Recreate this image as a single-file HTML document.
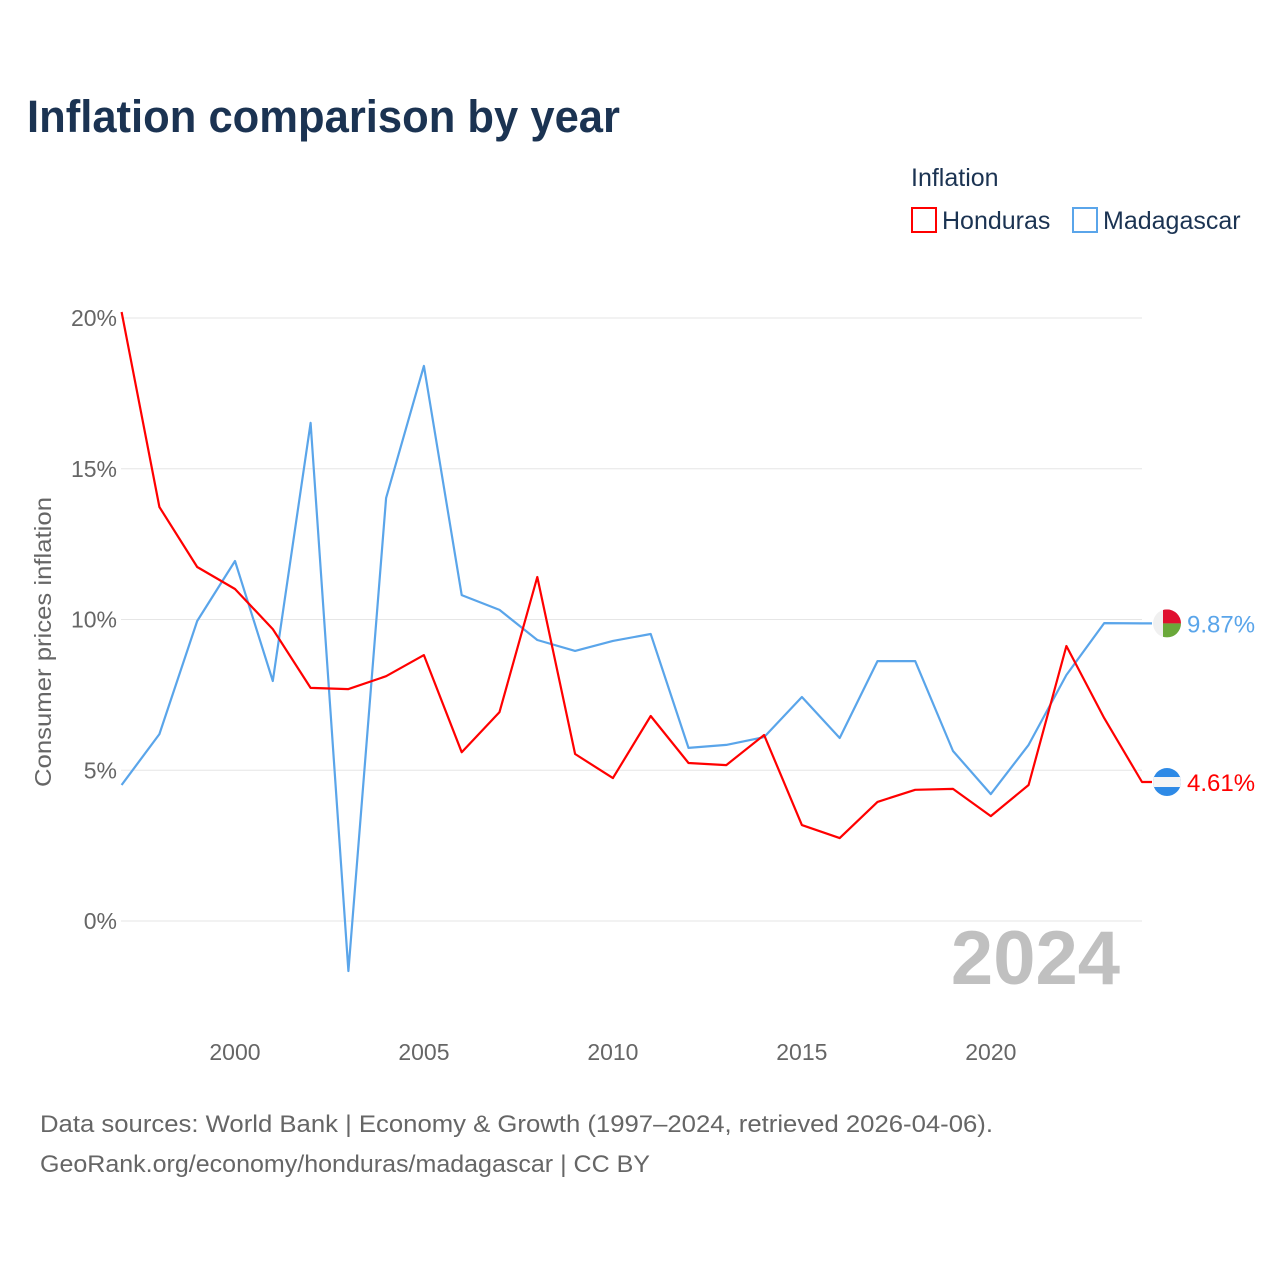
<!DOCTYPE html>
<html><head><meta charset="utf-8"><style>
body{margin:0;background:#fff;}
svg text{font-family:"Liberation Sans",sans-serif;}
</style></head><body>
<svg id="chart" width="1280" height="1280" viewBox="0 0 1280 1280" xmlns="http://www.w3.org/2000/svg">
<text x="27" y="132" font-size="45" font-weight="bold" fill="#1b3352" textLength="593" lengthAdjust="spacingAndGlyphs">Inflation comparison by year</text>
<text x="911" y="186" font-size="25" fill="#1b3352">Inflation</text>
<g>
<rect x="912" y="208" width="24" height="24" fill="none" stroke="#ff0000" stroke-width="2"/>
<text x="942" y="229" font-size="25" fill="#1b3352">Honduras</text></g>
<g>
<rect x="1073" y="208" width="24" height="24" fill="none" stroke="#5aa5ea" stroke-width="2"/>
<text x="1103" y="229" font-size="25" fill="#1b3352">Madagascar</text></g>
<text transform="translate(51,642) rotate(-90)" text-anchor="middle" font-size="23" fill="#666" textLength="290" lengthAdjust="spacingAndGlyphs">Consumer prices inflation</text>
<g id="grid"></g><g id="xt"></g><g id="series"></g>
<text x="1120" y="984" text-anchor="end" font-size="76" font-weight="bold" fill="#c0c0c0">2024</text>
<text x="40" y="1132" font-size="24" fill="#666" textLength="953" lengthAdjust="spacingAndGlyphs">Data sources: World Bank | Economy &amp; Growth (1997–2024, retrieved 2026-04-06).</text>
<text x="40" y="1172" font-size="24" fill="#666" textLength="610" lengthAdjust="spacingAndGlyphs">GeoRank.org/economy/honduras/madagascar | CC BY</text>
</svg>
<script>
const years=[1997,1998,1999,2000,2001,2002,2003,2004,2005,2006,2007,2008,2009,2010,2011,2012,2013,2014,2015,2016,2017,2018,2019,2020,2021,2022,2023,2024];
const honduras=[20.2,13.73,11.74,11.01,9.68,7.73,7.69,8.12,8.82,5.6,6.93,11.41,5.54,4.74,6.8,5.24,5.17,6.17,3.18,2.75,3.95,4.35,4.38,3.48,4.51,9.12,6.73,4.61];
const madagascar=[4.51,6.2,9.95,11.94,7.96,16.52,-1.66,14.03,18.41,10.81,10.32,9.32,8.96,9.29,9.52,5.74,5.84,6.1,7.43,6.07,8.62,8.62,5.64,4.21,5.84,8.16,9.88,9.87];
const yTicks=[0,5,10,15,20];
const xTicks=[2000,2005,2010,2015,2020];
const NS="http://www.w3.org/2000/svg";
const X=y=>121.6+(y-1997)*(1142-121.6)/27;
const Y=v=>921-v*30.15;
function mk(t,a,p){const e=document.createElementNS(NS,t);for(const k in a)e.setAttribute(k,a[k]);p.appendChild(e);return e;}
const grid=document.getElementById('grid');
yTicks.forEach(v=>{
 const l=mk('line',{x1:121,x2:1142,y1:Y(v),y2:Y(v),stroke:'#e6e6e6','stroke-width':1},grid);
 
 
 const t=mk('text',{x:117,y:Y(v)+8,'text-anchor':'end','font-size':23,fill:'#666'},grid);
 t.textContent=v+'%';
 
 
});
const xt=document.getElementById('xt');
xTicks.forEach(y=>{
 const t=mk('text',{x:X(y),y:1060,'text-anchor':'middle','font-size':23,fill:'#666'},xt);
 t.textContent=y;
 
 
});
const S=document.getElementById('series');
function draw(vals,color,name){
 const pts=vals.map((v,i)=>X(years[i]).toFixed(1)+','+Y(v).toFixed(1));
 const last=vals[vals.length-1];
 pts.push('1152,'+Y(last).toFixed(1));
 const p=mk('polyline',{points:pts.join(' '),fill:'none',stroke:color,'stroke-width':2.2,'stroke-linejoin':'round'},S);
 
 
 const t=mk('text',{x:1187,y:Y(last)+9,'font-size':24,fill:color},S);
 t.textContent=last.toFixed(2)+'%';
 
 
 return Y(last);
}
const ym=draw(madagascar,'#5aa5ea','madagascar');
const yh=draw(honduras,'#ff0000','honduras');
const cx=1167,r=14;
const fm=mk('g',{},S);


mk('clipPath',{id:'cm'},fm);
mk('circle',{cx:cx,cy:ym,r:r},document.getElementById('cm'));
const gm=mk('g',{'clip-path':'url(#cm)'},fm);
mk('rect',{x:cx-r,y:ym-r,width:2*r,height:2*r,fill:'#f0f0f0'},gm);
mk('rect',{x:cx-4,y:ym-r,width:r+4,height:r,fill:'#e0102f'},gm);
mk('rect',{x:cx-4,y:ym,width:r+4,height:r,fill:'#6aa83a'},gm);
const fh=mk('g',{},S);


mk('clipPath',{id:'ch'},fh);
mk('circle',{cx:cx,cy:yh,r:r},document.getElementById('ch'));
const gh=mk('g',{'clip-path':'url(#ch)'},fh);
mk('rect',{x:cx-r,y:yh-r,width:2*r,height:2*r,fill:'#2e8ae6'},gh);
mk('rect',{x:cx-r,y:yh-5,width:2*r,height:10,fill:'#f5f5f5'},gh);
</script>
</body></html>
